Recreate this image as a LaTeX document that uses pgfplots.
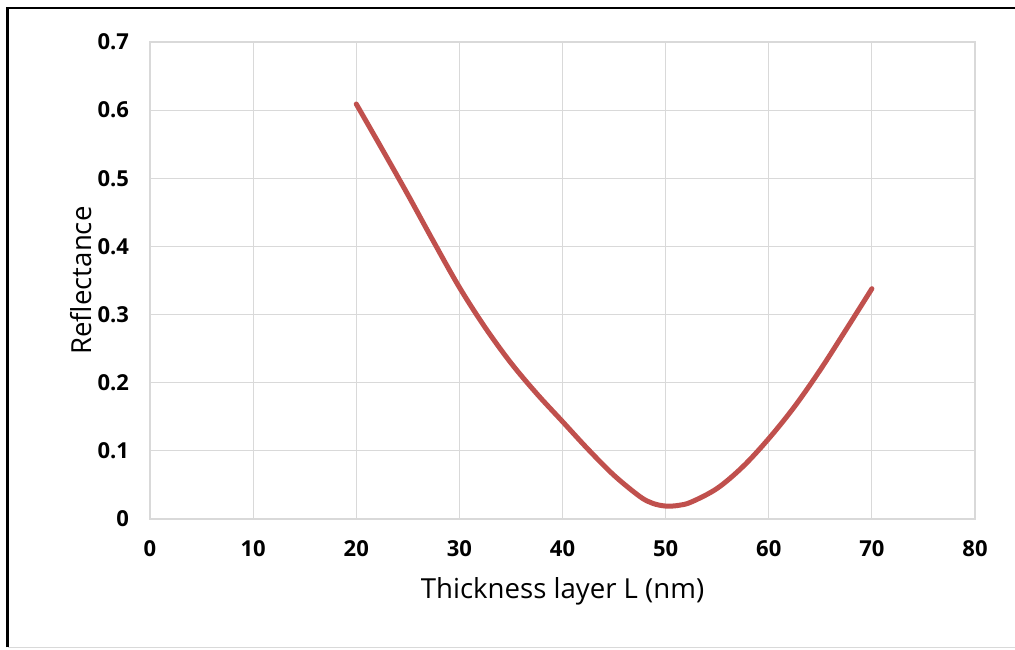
\documentclass[border=0pt]{standalone}
\usepackage{pgfplots}
\pgfplotsset{compat=1.18}
\usepackage{fontspec}
\setmainfont{Open Sans}
\definecolor{curvered}{RGB}{192,80,77}
\definecolor{gridgray}{RGB}{217,217,217}
\begin{document}
\begin{tikzpicture}
  \useasboundingbox (0,0) rectangle (507.5pt,324.5pt);
  % picture frame: black top and left, faint bottom
  \draw[black, line width=1.3pt] (3.8pt,0.8pt) -- (3.8pt,320.5pt) -- (507.5pt,320.5pt);
  \draw[gray!30, line width=0.6pt] (3.8pt,0.8pt) -- (507.5pt,0.8pt);
  \begin{axis}[
      at={(75pt,65pt)}, anchor=south west,
      scale only axis,
      width=412.5pt, height=238.5pt,
      xmin=0, xmax=80, ymin=0, ymax=0.7,
      xtick={0,10,...,80},
      ytick={0,0.1,...,0.7},
      grid=major,
      major grid style={gridgray, line width=0.6pt},
      axis line style={gridgray, line width=0.8pt},
      major tick length=0pt,
      ticklabel style={font=\bfseries\fontsize{11}{13}\selectfont},
      /pgf/number format/assume math mode=true,
      yticklabel style={/pgf/number format/fixed, /pgf/number format/precision=1},
      xticklabel shift=7pt,
      yticklabel shift=7pt,
      xlabel={Thickness layer L (nm)},
      ylabel={Reflectance},
      label style={font=\fontsize{13.8}{15}\selectfont},
      xlabel style={yshift=-4pt},
      ylabel style={yshift=-4pt},
    ]
    \addplot[curvered, line width=2.5pt, smooth, tension=0.55, line cap=round] coordinates {
      (20,0.609) (22.5,0.543) (25,0.476) (27.5,0.407) (30,0.340)
      (32.5,0.281) (35,0.229) (37.5,0.184) (40,0.143) (42.5,0.102)
      (45,0.064) (47.5,0.033) (48.75,0.023) (50,0.019) (51.25,0.020)
      (52.5,0.025) (55,0.045) (57.5,0.077) (60,0.118) (62.5,0.165)
      (65,0.219) (67.5,0.278) (70,0.338)
    };
  \end{axis}
\end{tikzpicture}
\end{document}
